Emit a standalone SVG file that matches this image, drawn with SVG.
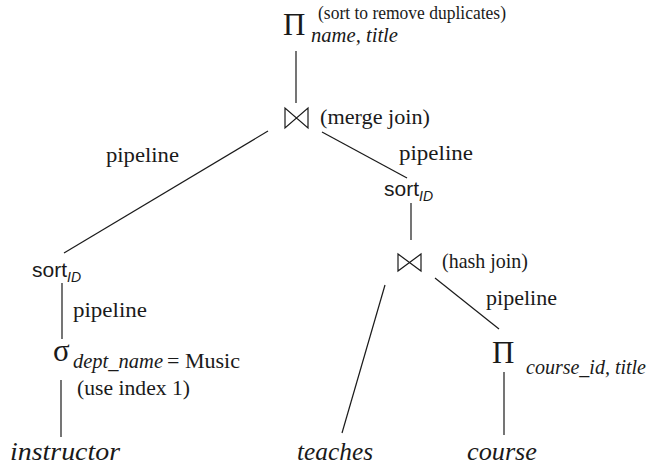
<svg xmlns="http://www.w3.org/2000/svg" width="648" height="467" viewBox="0 0 648 467">
<style>
.s{font-family:"Liberation Serif","Times New Roman",serif;font-size:21px;fill:#1a1a1a}
.i{font-style:italic}
.big{font-size:31px}
.sub{font-size:20px}
.sm{font-size:19.5px}
.leaf{font-size:26px}
.h{font-family:"Liberation Sans",Arial,sans-serif;font-size:21px;fill:#1a1a1a}
.hs{font-family:"Liberation Sans",Arial,sans-serif;font-size:14px;font-style:italic;fill:#1a1a1a}
.e line,.bt{stroke:#1a1a1a;stroke-width:1.2;fill:none}
</style>
<rect width="648" height="467" fill="#ffffff"/>
<g id="edges" class="e">
<line x1="296" y1="51" x2="296" y2="103"/>
<line x1="268" y1="131" x2="64" y2="253"/>
<line x1="322" y1="132" x2="407" y2="178"/>
<line x1="62" y1="283" x2="62" y2="339"/>
<line x1="61" y1="380" x2="61" y2="437"/>
<line x1="411" y1="203" x2="411" y2="240"/>
<line x1="385" y1="285" x2="342" y2="433"/>
<line x1="435" y1="278" x2="499" y2="329"/>
<line x1="504" y1="372" x2="504" y2="435"/>
<text class="s" x="106" y="162" textLength="73" lengthAdjust="spacingAndGlyphs">pipeline</text>
<text class="s" x="399" y="160" textLength="74" lengthAdjust="spacingAndGlyphs">pipeline</text>
<text class="s" x="73" y="317" textLength="74" lengthAdjust="spacingAndGlyphs">pipeline</text>
<text class="s" x="486" y="305" textLength="71" lengthAdjust="spacingAndGlyphs">pipeline</text>
</g>
<g id="project-top">
<text class="s big" x="283" y="35">Π</text>
<text class="s sm" x="318" y="19" textLength="188" lengthAdjust="spacingAndGlyphs">(sort to remove duplicates)</text>
<text class="s i sub" x="311" y="42" textLength="87" lengthAdjust="spacingAndGlyphs">name, title</text>
</g>
<g id="merge-join">
<path class="bt" d="M285,108 L285,128 L308,108 L308,128 Z"/>
<text class="s" x="320" y="124" textLength="110" lengthAdjust="spacingAndGlyphs">(merge join)</text>
</g>
<g id="sort-left">
<text class="h" x="32" y="277">sort</text>
<text class="hs" x="67" y="282">ID</text>
</g>
<g id="select">
<text class="s big" x="53" y="361">σ</text>
<text class="s i sub" x="73" y="368" textLength="90" lengthAdjust="spacingAndGlyphs">dept_name</text>
<text class="s" x="167" y="368" textLength="73" lengthAdjust="spacingAndGlyphs">= Music</text>
<text class="s" x="77" y="395" textLength="113" lengthAdjust="spacingAndGlyphs">(use index 1)</text>
</g>
<g id="sort-right">
<text class="h" x="384" y="196">sort</text>
<text class="hs" x="419" y="201">ID</text>
</g>
<g id="hash-join">
<path class="bt" d="M398,254 L398,271 L421,254 L421,271 Z"/>
<text class="s" x="442" y="268" textLength="86" lengthAdjust="spacingAndGlyphs">(hash join)</text>
</g>
<g id="project-course">
<text class="s big" x="492" y="363">Π</text>
<text class="s i sub" x="526" y="374" textLength="120" lengthAdjust="spacingAndGlyphs">course_id, title</text>
</g>
<g id="instructor">
<text class="s i leaf" x="10" y="460" textLength="110" lengthAdjust="spacingAndGlyphs">instructor</text>
</g>
<g id="teaches">
<text class="s i leaf" x="297" y="460" textLength="76" lengthAdjust="spacingAndGlyphs">teaches</text>
</g>
<g id="course">
<text class="s i leaf" x="467" y="460" textLength="70" lengthAdjust="spacingAndGlyphs">course</text>
</g>
</svg>
